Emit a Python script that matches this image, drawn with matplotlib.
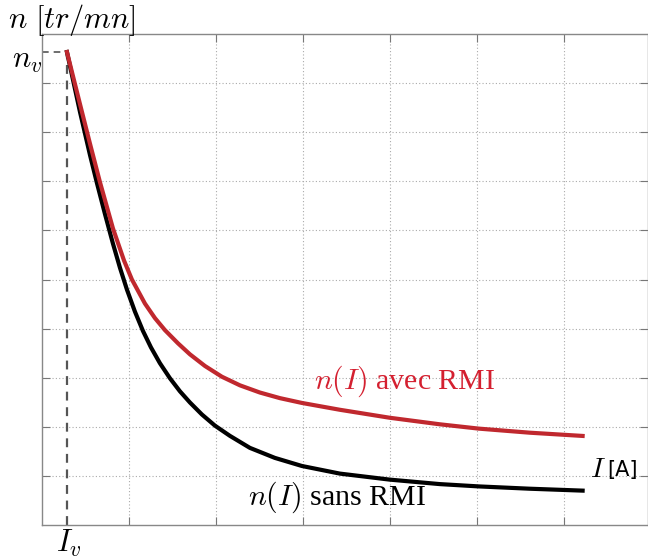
import matplotlib
matplotlib.use("Agg")
import matplotlib.pyplot as plt

plt.rcParams['mathtext.fontset'] = 'cm'
plt.rcParams['font.family'] = 'Liberation Serif'

# values (grid units)
I_v = 0.287
n_v = 9.633

I_sans = [0.287, 0.437, 0.552, 0.632, 0.724, 0.816, 0.897, 0.977, 1.069, 1.161, 1.253,
          1.356, 1.471, 1.586, 1.701, 1.839, 1.989, 2.161, 2.391, 2.678, 2.989, 3.425,
          4.000, 4.575, 5.023, 5.609, 6.218]
n_sans = [9.633, 8.412, 7.535, 6.963, 6.335, 5.731, 5.237, 4.794, 4.345, 3.953, 3.618,
          3.296, 2.990, 2.724, 2.496, 2.251, 2.024, 1.816, 1.571, 1.367, 1.202, 1.047,
          0.924, 0.833, 0.786, 0.739, 0.700]

I_avec = [0.287, 0.437, 0.552, 0.667, 0.816, 0.943, 1.034, 1.184, 1.299, 1.414, 1.563,
          1.701, 1.874, 2.069, 2.276, 2.506, 2.736, 2.989, 3.425, 4.000, 4.575, 5.023,
          5.609, 6.218]
n_avec = [9.633, 8.571, 7.765, 6.980, 6.041, 5.388, 5.000, 4.510, 4.214, 3.969, 3.702,
          3.477, 3.239, 3.020, 2.845, 2.698, 2.584, 2.486, 2.347, 2.184, 2.051, 1.963,
          1.880, 1.814]

xgrid = [1, 2, 3, 4, 5, 6]
ygrid = [1, 2, 3, 4, 5, 6, 7, 8, 9]

fig = plt.figure(figsize=(6.48, 5.59), dpi=100)
ax = fig.add_axes([42/648, 34/559, 606/648, 491/559])
ax.set_xlim(0, 6.97)
ax.set_ylim(0, 10)

ax.set_xticks(xgrid)
ax.set_yticks(ygrid)
ax.set_xticklabels([])
ax.set_yticklabels([])
ax.tick_params(direction='in', length=6, color='#777777', top=True, right=True)
ax.grid(True, linestyle=(0, (1, 2)), color='#aaaaaa', linewidth=0.8)
for s in ax.spines.values():
    s.set_color('#888888')
    s.set_linewidth(1.0)

ax.plot([I_v, I_v], [0, n_v], color='#555555', linestyle=(0, (4, 3)), linewidth=1.6)
ax.plot([0, I_v], [n_v, n_v], color='#555555', linestyle=(0, (4, 3)), linewidth=1.2)

ax.plot(I_sans, n_sans, color='black', linewidth=3, solid_joinstyle='round')
ax.plot(I_avec, n_avec, color='#c0282e', linewidth=3, solid_joinstyle='round')

ax.text(3.13, 2.92, r"$n(I)$ avec RMI", color='#d42030', fontsize=21.5, va='center')
ax.text(2.37, 0.57, r"$n(I)$ sans RMI", color='black', fontsize=21.5, va='center')
ax.text(6.3, 1.12, r"$I$", fontsize=20, ha='left', va='center')
ax.text(6.5, 1.12, "[A]", fontsize=15, family='DejaVu Sans', ha='left', va='center')

fig.text(8/648, 1 - 20/559, r"$n\ [tr/mn]$", fontsize=22, ha='left', va='center')
fig.text(12/648, 1 - 60/559, r"$n_v$", fontsize=22, ha='left', va='center')
fig.text(56/648, 1 - 543/559, r"$I_v$", fontsize=22, ha='left', va='center')

fig.savefig("out.png", dpi=100)
